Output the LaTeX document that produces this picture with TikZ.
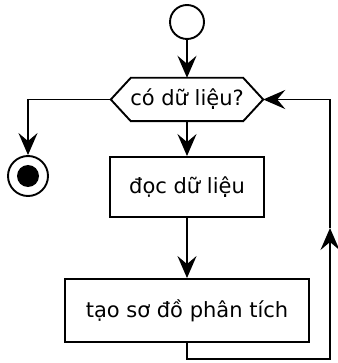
\documentclass[tikz,border=0pt]{standalone}
\usepackage{fontspec}
\setmainfont{DejaVu Sans}
\usetikzlibrary{arrows.meta}
\begin{document}
\begin{tikzpicture}[x=1pt,y=-1pt,
  line/.style={line width=1.9pt,draw=black},
  arr/.style={line,-{Stealth[length=22pt,width=19pt,inset=8pt]}},
  lbl/.style={font=\fontsize{21}{24}\selectfont},
  actbox/.style={draw,line width=1.9pt,rectangle,inner sep=0pt,lbl},
  startc/.style={circle,draw,line width=1.9pt,minimum size=34pt,inner sep=0pt},
  endc/.style={circle,draw,line width=1.9pt,minimum size=40pt,inner sep=0pt}]
\useasboundingbox (0,0) rectangle (337,363);
\node[startc] (start) at (187,22) {};
\node[rectangle,inner sep=0pt,minimum width=152pt,minimum height=43pt,lbl] (dec) at (187,99.5) {có dữ liệu?};
\draw[line] (dec.west) -- ([xshift=20pt]dec.north west) -- ([xshift=-20pt]dec.north east) -- (dec.east) -- ([xshift=-20pt]dec.south east) -- ([xshift=20pt]dec.south west) -- cycle;
\node[endc] (end) at (28,176) {};
\fill (end.center) circle (11pt);
\node[actbox,minimum width=154pt,minimum height=60pt] (read) at (187,187) {đọc dữ liệu};
\node[actbox,minimum width=244pt,minimum height=63pt] (plot) at (187,310.5) {tạo sơ đồ phân tích};
\coordinate (c1) at (330,359);
\coordinate (mid) at (330,228);
\coordinate (c2) at (330,99.5);
\draw[arr] (start.south) -- (dec.north);
\draw[arr] (dec.west) -| (end.north);
\draw[arr] (dec.south) -- (read.north);
\draw[arr] (read.south) -- (plot.north);
\draw[arr] (plot.south) |- (c1) -- (mid);
\draw[arr] (mid) -- (c2) -- (dec.east);
\end{tikzpicture}
\end{document}
